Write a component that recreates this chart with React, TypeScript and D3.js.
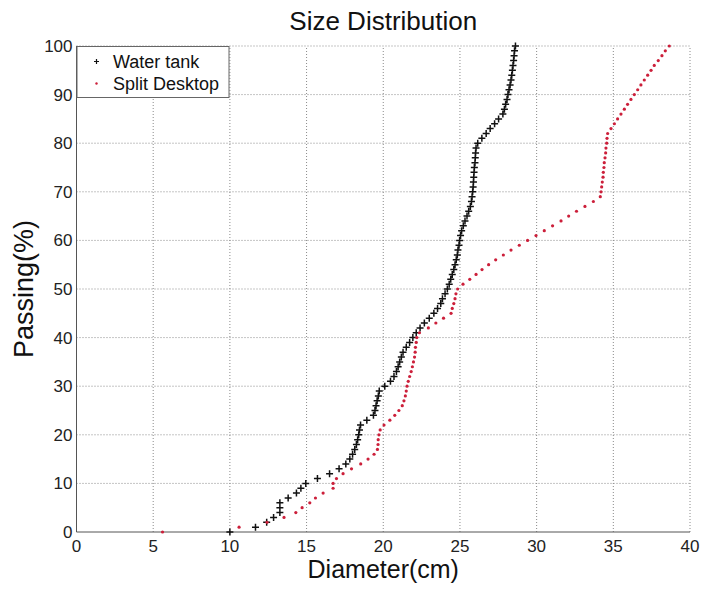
import * as React from "react";
import * as d3 from "d3";

// passing percentages, one reading per marker (both series share them)
const passing = [
  0, 1, 2, 3, 4, 5, 6, 7, 8, 9, 10, 11, 12, 13, 14, 15, 16, 17, 18, 19, 20,
  21, 22, 23, 24, 25, 26, 27, 28, 29, 30, 31, 32, 33, 34, 35, 36, 37, 38, 39, 40,
  41, 42, 43, 44, 45, 46, 47, 48, 49, 50, 51, 52, 53, 54, 55, 56, 57, 58, 59, 60,
  61, 62, 63, 64, 65, 66, 67, 68, 69, 70, 71, 72, 73, 74, 75, 76, 77, 78, 79, 80,
  81, 82, 83, 84, 85, 86, 87, 88, 89, 90, 91, 92, 93, 94, 95, 96, 97, 98, 99, 100,
];

// diameters (cm)
const waterTank = [
  10.0, 11.67, 12.4, 12.85, 13.26, 13.26, 13.26, 13.8, 14.34, 14.63, 14.95,
  15.71, 16.5, 17.12, 17.56, 17.82, 18.0, 18.14, 18.25, 18.33, 18.4,
  18.45, 18.52, 18.93, 19.36, 19.46, 19.53, 19.6, 19.68, 19.74, 20.1,
  20.47, 20.7, 20.86, 20.97, 21.07, 21.18, 21.29, 21.5, 21.72, 21.93,
  22.15, 22.4, 22.68, 23.0, 23.3, 23.54, 23.75, 23.86, 24.03, 24.18,
  24.3, 24.4, 24.5, 24.6, 24.68, 24.76, 24.83, 24.87, 24.94, 24.98,
  25.04, 25.11, 25.22, 25.33, 25.46, 25.57, 25.68, 25.75, 25.79, 25.83,
  25.86, 25.88, 25.9, 25.92, 25.94, 25.98, 26.0, 26.02, 26.05, 26.16,
  26.43, 26.71, 26.97, 27.26, 27.52, 27.8, 27.9, 27.98, 28.07, 28.13,
  28.2, 28.27, 28.33, 28.38, 28.42, 28.46, 28.5, 28.53, 28.56, 28.62,
];

const splitDesktop = [
  5.61, 10.6, 12.42, 13.53, 14.3, 14.71, 15.21, 15.58, 16.08, 16.73, 16.73,
  16.95, 17.38, 17.93, 18.53, 19.01, 19.4, 19.62, 19.66, 19.67, 19.72,
  19.8, 20.05, 20.43, 20.75, 21.02, 21.24, 21.35, 21.44, 21.5, 21.55,
  21.63, 21.72, 21.82, 21.9, 21.97, 22.04, 22.08, 22.1, 22.15, 22.19,
  22.36, 22.94, 23.43, 23.93, 24.42, 24.5, 24.6, 24.68, 24.74, 24.85,
  25.2, 25.64, 26.05, 26.44, 26.87, 27.33, 27.83, 28.33, 28.87, 29.41,
  29.96, 30.5, 31.04, 31.59, 32.09, 32.6, 33.15, 33.7, 34.15, 34.2,
  34.24, 34.28, 34.33, 34.35, 34.39, 34.41, 34.46, 34.5, 34.52, 34.57,
  34.59, 34.63, 34.85, 35.07, 35.28, 35.5, 35.72, 35.93, 36.15, 36.37,
  36.59, 36.8, 37.02, 37.24, 37.46, 37.67, 37.93, 38.17, 38.39, 38.65,
];

const xTicks = [0, 5, 10, 15, 20, 25, 30, 35, 40];
const yTicks = [0, 10, 20, 30, 40, 50, 60, 70, 80, 90, 100];

const W = 706;
const H = 589;
const left = 76.5;
const right = 690;
const top = 46;
const bottom = 532;

const font = "Arial, 'Liberation Sans', Helvetica, sans-serif";
const red = "#cc1f3a";

const App = () => {
  const x = d3.scaleLinear().domain([0, 40]).range([left, right]);
  const y = d3.scaleLinear().domain([0, 100]).range([bottom, top]);

  const plus = (cx, cy, r) => `M${cx - r},${cy}H${cx + r}M${cx},${cy - r}V${cy + r}`;

  return (
    <svg width={W} height={H} style={{ position: "absolute", left: 0, top: 0, background: "#fff" }}>
      <rect width={W} height={H} fill="#fff" />
      {/* grid */}
      <g stroke="#8a8a8a" strokeWidth={1} strokeDasharray="1,2">
        {xTicks.filter(t => t > 0).map(t => (
          <line key={"gx" + t} x1={x(t)} x2={x(t)} y1={y(0)} y2={y(100)} />
        ))}
        {yTicks.filter(t => t > 0).map(t => (
          <line key={"gy" + t} x1={x(0)} x2={x(40)} y1={y(t)} y2={y(t)} />
        ))}
      </g>
      {/* axes */}
      <g stroke="#555" strokeWidth={1}>
        <line x1={x(0)} x2={x(0)} y1={y(0)} y2={y(100)} />
        <line x1={x(0)} x2={x(40)} y1={y(0)} y2={y(0)} />
      </g>
      <g fontFamily={font} fontSize={17} fill="#222">
        {xTicks.map(t => (
          <text key={"tx" + t} x={x(t)} y={y(0) + 19.5} textAnchor="middle">{t}</text>
        ))}
        {yTicks.map(t => (
          <text key={"ty" + t} x={x(0) - 4} y={y(t) + 6} textAnchor="end">{t}</text>
        ))}
      </g>

      {/* series */}
      <path
        d={waterTank.map((d, i) => plus(x(d), y(passing[i]), 3.5)).join("")}
        stroke="#111"
        strokeWidth={1.5}
        fill="none"
      />
      <g fill={red}>
        {splitDesktop.map((d, i) => (
          <circle key={i} cx={x(d)} cy={y(passing[i])} r={1.6} />
        ))}
      </g>

      {/* legend */}
      <rect x={77} y={46.5} width={152} height={51} fill="#fff" stroke="#666" strokeWidth={1} />
      <path d={plus(96.5, 61.5, 2.5)} stroke="#111" strokeWidth={1.2} />
      <circle cx={96.5} cy={83.5} r={1.2} fill={red} />
      <g fontFamily={font} fontSize={18} fill="#111">
        <text x={113} y={67.5}>Water tank</text>
        <text x={113} y={90}>Split Desktop</text>
      </g>

      {/* titles */}
      <text x={(left + right) / 2} y={30} textAnchor="middle" fontFamily={font} fontSize={26} fill="#111">
        Size Distribution
      </text>
      <text x={(left + right) / 2} y={578} textAnchor="middle" fontFamily={font} fontSize={25} fill="#111">
        Diameter(cm)
      </text>
      <text
        transform={`translate(33,${(top + bottom) / 2}) rotate(-90)`}
        textAnchor="middle"
        fontFamily={font}
        fontSize={27}
        fill="#111"
      >
        Passing(%)
      </text>
    </svg>
  );
};

export default App;
